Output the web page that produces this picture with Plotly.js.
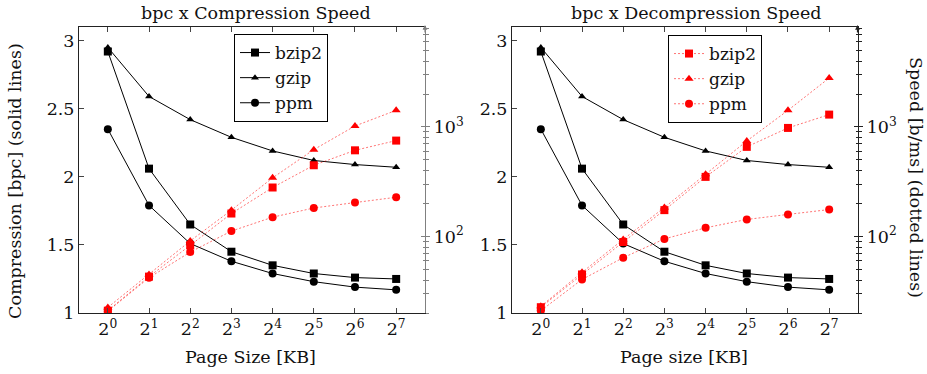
<!DOCTYPE html>
<html><head><meta charset="utf-8">
<script src="https://cdn.plot.ly/plotly-3.0.1.min.js"></script>
<style>html,body{margin:0;padding:0;background:#fff}</style>
</head><body><div id="chart" style="width:927px;height:374px"></div>
<script>
// ---- data ----
const pageSizes = [1, 2, 4, 8, 16, 32, 64, 128];
const pageLabels = ['2<sup>0</sup>','2<sup>1</sup>','2<sup>2</sup>','2<sup>3</sup>','2<sup>4</sup>','2<sup>5</sup>','2<sup>6</sup>','2<sup>7</sup>'];
const algorithms = ['bzip2', 'gzip', 'ppm'];
// compression ratio [bpc] (solid lines, same in both panels)
const bpcBzip2 = [2.92, 2.06, 1.65, 1.45, 1.35, 1.29, 1.26, 1.25];
const bpcGzip  = [2.95, 2.59, 2.42, 2.29, 2.19, 2.12, 2.09, 2.07];
const bpcPpm   = [2.35, 1.79, 1.51, 1.38, 1.29, 1.23, 1.19, 1.17];
// compression speed [b/ms]
const compBzip2 = [21, 43, 83, 162, 280, 447, 612, 751];
const compGzip  = [22.5, 45, 91, 174, 343, 621, 1021, 1419];
const compPpm   = [20.8, 42, 72, 112, 150, 182, 204, 228];
// decompression speed [b/ms]
const decBzip2 = [22.6, 45, 89, 174, 350, 658, 980, 1297];
const decGzip  = [23, 47, 94, 184, 370, 745, 1419, 2800];
const decPpm   = [21, 40.5, 64, 95, 120, 143, 159, 176];
const bpcTicks = [1, 1.5, 2, 2.5, 3];
const speedTicks = [100, 1000];
const speedTickLabels = ['10<sup>2</sup>', '10<sup>3</sup>'];

// ---- styling ----
const FONT = '"DejaVu Serif", serif';
const FS = 17.5;
const W = 927, H = 374;
const px = v => v / W, py = v => 1 - v / H;
const domL = [px(79), px(425)];
const domR = [px(512), px(858)];
const domY = [py(313), py(27)];
const xRange = [Math.log10(Math.pow(2, -0.7)), Math.log10(Math.pow(2, 7.7))];
const yRange = [1, 3.1];
const logRange = [Math.log10(20), 3.913];
const symbols = ['square', 'triangle-up', 'circle'];
const blackSizes = [8, 7, 8];
const redSizes = [8, 8, 8];

const minorVals = [];
for (let e = 1; e <= 3; e++) for (let d = 2; d <= 9; d++) minorVals.push(d * Math.pow(10, e));

const bpcSets = [bpcBzip2, bpcGzip, bpcPpm];
const compSets = [compBzip2, compGzip, compPpm];
const decSets = [decBzip2, decGzip, decPpm];

const RED_LINE = {color: 'rgba(255,0,0,0.55)', width: 1, dash: '2px,2px'};
const traces = [];
// left panel
algorithms.forEach((name, i) => traces.push({
  x: pageSizes, y: bpcSets[i], name, type: 'scatter', mode: 'lines+markers',
  xaxis: 'x', yaxis: 'y', legend: 'legend',
  line: {color: 'black', width: 1}, marker: {symbol: symbols[i], size: blackSizes[i], color: 'black'}
}));
algorithms.forEach((name, i) => traces.push({
  x: pageSizes, y: compSets[i], name, type: 'scatter', mode: 'lines+markers',
  xaxis: 'x', yaxis: 'y2', showlegend: false,
  line: RED_LINE, marker: {symbol: symbols[i], size: redSizes[i], color: 'red'}
}));
// right panel
algorithms.forEach((name, i) => traces.push({
  x: pageSizes, y: bpcSets[i], name, type: 'scatter', mode: 'lines+markers',
  xaxis: 'x2', yaxis: 'y3', showlegend: false,
  line: {color: 'black', width: 1}, marker: {symbol: symbols[i], size: blackSizes[i], color: 'black'}
}));
algorithms.forEach((name, i) => traces.push({
  x: pageSizes, y: decSets[i], name, type: 'scatter', mode: 'lines+markers',
  xaxis: 'x2', yaxis: 'y4', legend: 'legend2',
  line: RED_LINE, marker: {symbol: symbols[i], size: redSizes[i], color: 'red'}
}));

const tf = {family: FONT, size: FS, color: '#111'};
const xAx = (dom, anchor) => ({
  domain: dom, anchor, type: 'log', range: xRange, tickmode: 'array', tickvals: pageSizes, ticktext: pageLabels,
  ticks: 'inside', ticklen: 5, tickcolor: '#444', showline: true, linecolor: '#222', linewidth: 1, mirror: 'ticks',
  showgrid: false, zeroline: false, tickfont: tf
});
const yAx = (anchor) => ({
  domain: domY, anchor, range: yRange, tickmode: 'array', tickvals: bpcTicks, ticktext: bpcTicks.map(String),
  ticks: 'inside', ticklen: 5, tickcolor: '#444', showline: true, linecolor: '#222', linewidth: 1,
  showgrid: false, zeroline: false, tickfont: tf
});
const logAx = (over, anchor, col, labels, ticks) => ({
  overlaying: over, anchor, side: 'right', type: 'log', range: logRange,
  tickmode: 'array', tickvals: speedTicks, ticktext: speedTickLabels, showticklabels: labels,
  ticks: ticks, ticklen: 4, tickcolor: col, tickwidth: 1,
  minor: {tickmode: 'array', tickvals: minorVals, ticks: ticks, ticklen: 2.5, tickcolor: col, showgrid: false},
  showline: labels, linecolor: col, linewidth: 1.2, showgrid: false, zeroline: false,
  tickfont: tf
});

const legendBase = {
  bgcolor: 'white', bordercolor: 'black', borderwidth: 1, xanchor: 'left', yanchor: 'top',
  font: {family: FONT, size: 17, color: '#111'}, tracegroupgap: 0, itemwidth: 30
};

const ann = (text, x, y, angle) => ({
  text, x: px(x), y: py(y), xref: 'paper', yref: 'paper', showarrow: false, textangle: angle || 0,
  xanchor: 'center', yanchor: 'middle', font: tf
});
const arrow = (x, col) => ({
  x: px(x), y: py(25), xref: 'paper', yref: 'paper', ax: 0, ay: 9, text: '', showarrow: true,
  arrowhead: 2, arrowsize: 0.8, arrowwidth: 1.2, arrowcolor: col
});

const layout = {
  width: W, height: H, margin: {l: 0, r: 0, t: 0, b: 0},
  font: tf,
  paper_bgcolor: 'white', plot_bgcolor: 'rgba(0,0,0,0)', showlegend: true,
  xaxis: xAx(domL, 'y'),
  yaxis: yAx('x'),
  yaxis2: logAx('y', 'x', '#808080', true, 'outside'),
  yaxis5: logAx('y', 'x', '#808080', false, 'inside'),
  xaxis2: xAx(domR, 'y3'),
  yaxis3: yAx('x2'),
  yaxis4: logAx('y3', 'x2', '#222', true, 'outside'),
  yaxis6: logAx('y3', 'x2', '#222', false, 'inside'),
  legend: Object.assign({x: px(234), y: py(34)}, legendBase),
  legend2: Object.assign({x: px(668), y: py(35)}, legendBase),
  annotations: [
    ann('bpc x Compression Speed', 256, 13),
    ann('bpc x Decompression Speed', 696, 13),
    ann('Page Size [KB]', 250, 357),
    ann('Page size [KB]', 684, 357),
    ann('Compression [bpc] (solid lines)', 15, 181, -90),
    ann('Speed [b/ms] (dotted lines)', 916, 177, 90),
    arrow(425, '#808080'),
    arrow(857.5, '#222')
  ]
};
// invisible points so the tick-only overlay axes get drawn
traces.push({x: [pageSizes[0]], y: [speedTicks[0]], xaxis: 'x', yaxis: 'y5', mode: 'markers', marker: {opacity: 0}, showlegend: false, hoverinfo: 'skip'});
traces.push({x: [pageSizes[0]], y: [speedTicks[0]], xaxis: 'x2', yaxis: 'y6', mode: 'markers', marker: {opacity: 0}, showlegend: false, hoverinfo: 'skip'});

Plotly.newPlot('chart', traces, layout, {staticPlot: true});
</script></body></html>
